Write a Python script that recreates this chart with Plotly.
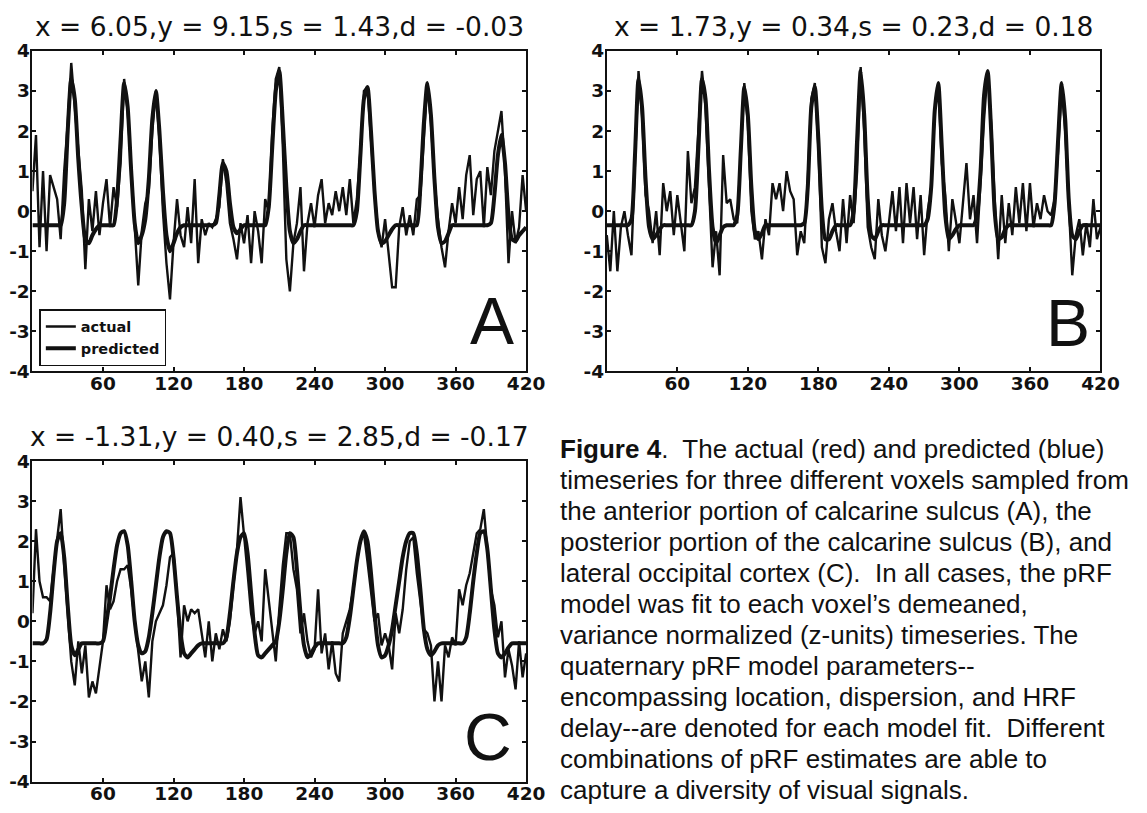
import plotly.graph_objects as go

# ---------------- data ----------------
t = list(range(0, 421, 3))  # time axis, 141 samples

actual_A = [0.5, 1.9, -0.9, 1.0, -1.0, 0.9, 0.6, 0.3, -0.7, 1.0,
            2.2, 3.7, 2.6, 1.5, 0.5, -1.45, 0.3, -0.5, 0.5, -0.6,
            0.2, 0.8, -0.4, 0.6, 0.1, 1.2, 3.3, 2.5, 1.0, -0.6,
            -1.85, -0.5, 0.2, 0.5, 2.0, 3.0, 1.8, 0.0, -1.3, -2.2,
            -0.8, 0.3, -0.6, -0.9, 0.1, -0.8, 0.8, -1.3, -0.2, -0.6,
            -0.3, -0.4, -0.2, 0.1, 1.3, 0.7, -0.3, -0.7, -1.2, -0.3,
            -0.8, -0.1, -1.3, 0.0, -0.5, -1.3, 0.3, 0.0, 2.0, 3.3,
            3.6, 1.6, -1.2, -2.0, -0.8, -0.3, 0.6, -1.5, -0.3, 0.2,
            -0.4, 0.4, 0.8, -0.3, 0.2, -0.1, 0.5, 0.0, 0.6, -0.1,
            0.8, -0.3, 0.3, 1.5, 3.0, 3.1, 1.8, 0.5, -0.5, -0.9,
            -0.2, -1.1, -1.9, -1.9, -0.4, 0.1, -0.6, -0.1, -0.6, 0.3,
            0.4, 1.8, 3.2, 2.2, 0.8, -0.2, -0.9, -1.4, -0.5, 0.2,
            -0.3, 0.6, -0.2, 0.9, 1.4, -0.1, 0.8, 1.0, -0.4, 1.1,
            0.4, 1.5, 2.0, 2.5, 1.0, -1.3, 0.0, -0.8, -0.4, 0.9,
            0.0]
predicted_A = [-0.35, -0.35, -0.35, -0.35, -0.35, -0.35, -0.35, -0.35, -0.35, 0.2,
               2.0, 3.3, 2.8, 1.3, 0.1, -0.7, -0.8, -0.6, -0.45, -0.35,
               -0.35, -0.35, -0.35, -0.35, 0.3, 1.8, 3.2, 2.6, 1.0, -0.3,
               -0.8, -0.6, -0.2, 0.8, 2.3, 3.0, 2.0, 0.5, -0.6, -1.0,
               -0.8, -0.55, -0.4, -0.35, -0.35, -0.35, -0.35, -0.35, -0.35, -0.35,
               -0.35, -0.35, -0.3, 0.4, 1.2, 1.0, 0.2, -0.4, -0.55, -0.45,
               -0.35, -0.35, -0.35, -0.35, -0.35, -0.35, -0.35, 0.1, 1.6, 3.0,
               3.5, 2.2, 0.6, -0.5, -0.8, -0.7, -0.5, -0.35, -0.35, -0.35,
               -0.35, -0.35, -0.35, -0.35, -0.35, -0.35, -0.35, -0.35, -0.35, -0.35,
               -0.35, -0.35, 0.0, 1.4, 2.8, 3.1, 2.0, 0.5, -0.5, -0.8,
               -0.75, -0.6, -0.45, -0.35, -0.35, -0.35, -0.35, -0.35, -0.35, -0.35,
               0.6, 2.2, 3.2, 2.4, 0.8, -0.4, -0.8, -0.75, -0.55, -0.35,
               -0.35, -0.35, -0.35, -0.35, -0.35, -0.35, -0.35, -0.35, -0.35, -0.35,
               -0.3, 0.4, 1.4, 1.9, 1.2, -0.1, -0.7, -0.75, -0.6, -0.5,
               -0.4]

actual_B = [-0.6, -1.5, 0.0, -1.5, -0.4, 0.0, -0.6, -1.1, 1.2, 3.5,
            2.4, 0.4, 0.0, -0.8, 0.0, -1.1, 0.7, 0.0, 0.5, -0.6,
            0.4, -0.3, -1.0, 1.5, 0.2, 0.6, 2.0, 3.5, 2.6, 0.5,
            -1.4, -0.5, -1.6, 1.4, 0.2, 0.3, -0.2, -0.3, 1.5, 3.2,
            2.2, 0.0, -0.7, -0.5, -1.2, -0.2, -0.6, 0.7, 0.3, 0.7,
            0.0, 1.0, 0.5, 0.3, -1.1, -0.5, -0.8, 0.8, 2.8, 3.2,
            1.6, -0.9, -1.3, -0.2, 0.2, -0.5, -1.0, 0.3, -0.8, 0.4,
            -0.3, 1.0, 3.6, 2.0, -0.4, -0.9, -1.2, 0.3, -0.6, -1.0,
            -0.3, 0.5, -0.5, 0.6, -0.8, 0.7, -0.3, 0.6, -0.7, 0.4,
            -1.1, 0.0, 0.6, 2.5, 3.2, 1.2, 0.4, -1.0, 0.3, -0.3,
            -0.8, 0.2, 1.2, -0.2, 0.4, -0.8, 0.8, 2.3, 3.5, 2.2,
            0.3, -1.2, 0.4, -0.8, 0.2, -0.6, 0.6, -0.3, 0.7, -0.5,
            0.7, -0.4, 0.2, -0.2, 0.4, 0.0, -0.1, 0.3, 1.5, 3.1,
            2.0, 0.0, -1.6, -0.6, -0.2, -1.1, -0.3, -0.9, 0.3, -0.7,
            -0.4]
predicted_B = [-0.35, -0.35, -0.35, -0.35, -0.35, -0.35, -0.35, -0.2, 1.4, 3.3,
               2.6, 0.8, -0.4, -0.7, -0.6, -0.45, -0.35, -0.35, -0.35, -0.35,
               -0.35, -0.35, -0.35, -0.35, -0.35, 0.0, 1.6, 3.3, 2.8, 1.0,
               -0.4, -0.8, -0.6, -0.4, -0.35, -0.35, -0.35, -0.1, 1.5, 3.1,
               2.4, 0.6, -0.5, -0.7, -0.55, -0.35, -0.35, -0.35, -0.35, -0.35,
               -0.35, -0.35, -0.35, -0.35, -0.35, -0.35, -0.3, 0.6, 2.6, 3.1,
               1.8, 0.0, -0.7, -0.7, -0.5, -0.35, -0.35, -0.35, -0.35, -0.35,
               0.0, 1.8, 3.5, 2.4, 0.3, -0.6, -0.7, -0.5, -0.35, -0.35,
               -0.35, -0.35, -0.35, -0.35, -0.35, -0.35, -0.35, -0.35, -0.35, -0.35,
               -0.35, -0.2, 0.6, 2.5, 3.2, 1.6, -0.1, -0.7, -0.6, -0.45,
               -0.35, -0.35, -0.35, -0.35, -0.35, -0.1, 1.0, 2.9, 3.5, 2.0,
               0.0, -0.7, -0.65, -0.45, -0.35, -0.35, -0.35, -0.35, -0.35, -0.35,
               -0.35, -0.35, -0.35, -0.35, -0.35, -0.35, -0.35, 0.2, 1.8, 3.2,
               2.3, 0.3, -0.6, -0.7, -0.5, -0.35, -0.35, -0.35, -0.35, -0.35,
               -0.35]

actual_C = [0.2, 2.3, 1.0, 0.6, 0.6, 0.5, 1.3, 2.0, 2.8, 1.4,
            0.2, -1.0, -1.6, -0.5, -1.3, -0.6, -1.9, -1.5, -1.8, -1.2,
            -0.5, 0.9, 0.3, 0.5, 1.0, 1.3, 1.3, 1.4, 0.8, 0.0,
            -0.8, -1.5, -1.0, -1.9, -0.5, 0.0, 0.2, 0.4, 0.9, 1.6,
            1.7, 0.6, -0.9, 0.4, 0.0, 0.3, 0.2, 0.3, -0.3, -0.9,
            0.0, -1.0, -0.3, -0.7, -0.2, -0.5, 0.0, 1.0, 1.8, 3.1,
            2.2, 1.2, 0.2, -0.3, 0.0, -0.5, 1.3, 0.5, -0.2, -1.0,
            0.3, 1.4, 2.2, 2.2, 1.3, 0.8, -0.3, 0.2, -0.5, -0.9,
            -0.7, 0.8, -0.8, -0.3, -1.2, -0.5, -1.3, -1.5, -0.3, 0.0,
            0.3, 0.8, 1.5, 2.0, 2.2, 1.5, 0.7, 0.0, 0.2, -0.6,
            -0.3, -0.6, -1.2, 0.2, -0.3, 0.3, 1.3, 2.0, 2.1, 1.2,
            0.5, -0.2, -0.3, -0.6, -2.0, -1.0, -2.0, -0.6, -0.9, -0.4,
            -0.6, 0.8, 0.4, 0.9, 1.2, 1.7, 2.2, 2.3, 2.8, 1.8,
            0.8, 0.4, -0.4, 0.0, -1.4, -0.7, -1.1, -1.7, -0.5, -1.4,
            -0.8]
predicted_C = [-0.55, -0.55, -0.55, -0.55, -0.45, 0.2, 1.2, 2.0, 2.2, 1.6,
               0.4, -0.6, -0.85, -0.7, -0.55, -0.55, -0.55, -0.55, -0.55, -0.55,
               -0.5, 0.0, 0.6, 1.3, 1.9, 2.2, 2.25, 1.9, 1.0, 0.0,
               -0.6, -0.8, -0.75, -0.4, 0.2, 0.9, 1.6, 2.1, 2.25, 2.2,
               1.6, 0.6, -0.3, -0.8, -0.9, -0.8, -0.7, -0.6, -0.55, -0.55,
               -0.55, -0.55, -0.55, -0.55, -0.55, -0.4, 0.2, 1.0, 1.7, 2.1,
               2.2, 1.7, 0.7, -0.3, -0.85, -0.9, -0.8, -0.7, -0.6, -0.5,
               0.0, 0.8, 1.7, 2.2, 2.1, 1.3, 0.2, -0.6, -0.9, -0.8,
               -0.65, -0.55, -0.55, -0.55, -0.55, -0.55, -0.55, -0.55, -0.55, -0.4,
               0.1, 0.8, 1.5, 2.0, 2.25, 2.0, 1.2, 0.2, -0.6, -0.9,
               -0.85, -0.6, -0.2, 0.4, 1.0, 1.6, 2.0, 2.2, 2.2, 1.7,
               0.8, -0.2, -0.7, -0.85, -0.75, -0.6, -0.55, -0.55, -0.55, -0.55,
               -0.55, -0.55, -0.55, -0.4, 0.2, 1.0, 1.7, 2.2, 2.25, 1.8,
               0.8, -0.2, -0.8, -0.9, -0.8, -0.65, -0.55, -0.55, -0.55, -0.55,
               -0.55]

titles = ["x = 6.05,y = 9.15,s = 1.43,d = -0.03",
          "x = 1.73,y = 0.34,s = 0.23,d = 0.18",
          "x = -1.31,y = 0.40,s = 2.85,d = -0.17"]
letters = ["A", "B", "C"]
x_ticks = [60, 120, 180, 240, 300, 360, 420]
y_ticks = [-4, -3, -2, -1, 0, 1, 2, 3, 4]
y_tick_text = ["-4", "-3", "-2", "-1", "0", "1", "2", "3", "4"]

caption = [
    "<b>Figure 4</b>.\u00a0 The actual (red) and predicted (blue)",
    "timeseries for three different voxels sampled from",
    "the anterior portion of calcarine sulcus (A), the",
    "posterior portion of the calcarine sulcus (B), and",
    "lateral occipital cortex (C).\u00a0 In all cases, the pRF",
    "model was fit to each voxel\u2019s demeaned,",
    "variance normalized (z-units) timeseries. The",
    "quaternary pRF model parameters--",
    "encompassing location, dispersion, and HRF",
    "delay--are denoted for each model fit.\u00a0 Different",
    "combinations of pRF estimates are able to",
    "capture a diversity of visual signals.",
]

# ---------------- layout geometry ----------------
W, H = 1147, 813
panels = [  # (left, right, top, bottom) in pixels
    (33, 535, 41, 370),
    (617, 1119, 41, 370),
    (33, 535, 462, 791),
]
letter_pos = [(525, 318), (1110, 320), (523, 745)]  # right edge, vertical centre (px)
series = [(actual_A, predicted_A), (actual_B, predicted_B), (actual_C, predicted_C)]

fig = go.Figure()
ink = "#111111"
tick_font = dict(family="DejaVu Sans", size=18.5, color=ink, weight="bold")

for i, ((l, r, tp, bt), (act, pred)) in enumerate(zip(panels, series)):
    sfx = "" if i == 0 else str(i + 1)
    xa, ya = "x" + sfx, "y" + sfx
    fig.add_trace(go.Scatter(x=t, y=act, mode="lines", name="actual",
                             line=dict(color=ink, width=2.4), xaxis=xa, yaxis=ya,
                             showlegend=(i == 0)))
    fig.add_trace(go.Scatter(x=t, y=pred, mode="lines", name="predicted",
                             line=dict(color=ink, width=4, shape="spline", smoothing=0.6),
                             xaxis=xa, yaxis=ya, showlegend=(i == 0)))
    axcommon = dict(showline=True, linecolor=ink, linewidth=2, mirror="ticks",
                    ticks="inside", ticklen=4, tickwidth=1.5, tickcolor=ink,
                    showgrid=False, zeroline=False, tickfont=tick_font)
    fig.layout["xaxis" + sfx] = dict(domain=[l / W, r / W], range=[0, 420],
                                     tickvals=x_ticks, anchor=ya,
                                     ticklabelstandoff=-6, **axcommon)
    fig.layout["yaxis" + sfx] = dict(domain=[1 - bt / H, 1 - tp / H], range=[-4, 4],
                                     tickvals=y_ticks, ticktext=y_tick_text,
                                     anchor=xa, ticklabelstandoff=-3, **axcommon)
    # panel title
    fig.add_annotation(x=(l + r) / 2 / W, y=1 - (tp - 7) / H, xref="paper", yref="paper",
                       text=titles[i], showarrow=False, xanchor="center", yanchor="bottom",
                       font=dict(family="DejaVu Sans", size=26.5, color=ink))
    # panel letter
    lx, ly = letter_pos[i]
    fig.add_annotation(x=lx / W, y=1 - ly / H, xref="paper", yref="paper",
                       text=letters[i], showarrow=False, xanchor="right", yanchor="middle",
                       font=dict(family="Liberation Sans", size=66, color=ink))

# caption lines
cap_x = 567
cap_y0, cap_dy = 450, 31.8
for k, line in enumerate(caption):
    fig.add_annotation(x=cap_x / W, y=1 - (cap_y0 + k * cap_dy) / H, xref="paper", yref="paper",
                       text=line, showarrow=False, xanchor="left", yanchor="middle",
                       font=dict(family="Liberation Sans", size=26, color=ink))

fig.update_layout(
    width=W, height=H, margin=dict(l=0, r=0, t=0, b=0),
    paper_bgcolor="white", plot_bgcolor="white",
    legend=dict(x=40 / W, y=1 - 306 / H, xanchor="left", yanchor="top",
                bgcolor="white", bordercolor=ink, borderwidth=1.5,
                font=dict(family="DejaVu Sans", size=14.5, color=ink, weight="bold"),
                itemwidth=30, tracegroupgap=0),
)

fig.write_html("out.html")
